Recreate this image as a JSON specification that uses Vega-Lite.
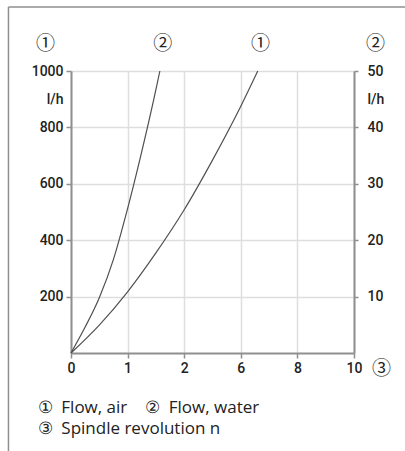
{
  "$schema": "https://vega.github.io/schema/vega-lite/v6.json",
  "width": 283,
  "height": 282,
  "autosize": {"type": "none"},
  "padding": {"left": 71, "top": 71, "right": 51, "bottom": 98},
  "background": "white",
  "config": {
    "view": {"stroke": null},
    "axis": {
      "labelFont": "Roboto",
      "labelFontSize": 14,
      "labelFontWeight": 500,
      "labelColor": "#222222",
      "domainColor": "#8f8f8f",
      "domainWidth": 2,
      "tickColor": "#8f8f8f",
      "tickWidth": 1.5,
      "gridColor": "#dedede",
      "gridWidth": 1.5,
      "titleFont": "Noto Sans CJK JP",
      "titleFontWeight": "normal",
      "titleColor": "#222222"
    }
  },
  "datasets": {
    "air": [
      {"n": 0, "q": 0},
      {"n": 1, "q": 99},
      {"n": 2, "q": 217},
      {"n": 3, "q": 355},
      {"n": 4, "q": 508},
      {"n": 5, "q": 684},
      {"n": 6, "q": 875},
      {"n": 6.6, "q": 1000}
    ],
    "water": [
      {"n": 0, "q": 0},
      {"n": 0.5, "q": 4.6},
      {"n": 1, "q": 9.8},
      {"n": 1.5, "q": 16.6},
      {"n": 2, "q": 25.6},
      {"n": 2.5, "q": 35.7},
      {"n": 3, "q": 46.7},
      {"n": 3.14, "q": 50}
    ]
  },
  "layer": [
    {
      "data": {"name": "air"},
      "mark": {"type": "line", "color": "#505050", "strokeWidth": 1.2, "interpolate": "monotone"},
      "encoding": {
        "x": {
          "field": "n", "type": "quantitative",
          "scale": {"domain": [0, 10], "nice": false},
          "axis": {
            "orient": "bottom",
            "values": [0, 2, 4, 6, 8, 10],
            "labelExpr": "datum.value == 2 ? '1' : datum.value == 4 ? '2' : datum.label",
            "grid": true,
            "tickSize": 5,
            "labelPadding": 3,
            "labelFlush": false,
            "title": "③",
            "titleX": 310,
            "titleY": 15,
            "titleAlign": "center",
            "titleBaseline": "middle",
            "titleFontSize": 19
          }
        },
        "y": {
          "field": "q", "type": "quantitative",
          "scale": {"domain": [0, 1000], "nice": false},
          "axis": {
            "orient": "left",
            "values": [200, 400, 600, 800, 900, 1000],
            "format": "d",
            "labelExpr": "datum.value == 900 ? 'l/h' : datum.label",
            "tickOpacity": {"condition": {"test": "datum.value == 900", "value": 0}, "value": 1},
            "gridOpacity": {"condition": {"test": "datum.value == 900", "value": 0}, "value": 1},
            "grid": true,
            "tickSize": 5,
            "labelPadding": 3,
            "labelFlush": false,
            "title": "①",
            "titleAngle": 0,
            "titleX": -26,
            "titleY": -28,
            "titleAlign": "center",
            "titleBaseline": "middle",
            "titleFontSize": 19
          }
        }
      }
    },
    {
      "data": {"name": "water"},
      "mark": {"type": "line", "color": "#505050", "strokeWidth": 1.2, "interpolate": "monotone"},
      "encoding": {
        "x": {"field": "n", "type": "quantitative", "scale": {"domain": [0, 10], "nice": false}, "axis": null},
        "y": {
          "field": "q", "type": "quantitative",
          "scale": {"domain": [0, 50], "nice": false},
          "axis": {
            "orient": "right",
            "values": [10, 20, 30, 40, 45, 50],
            "format": "d",
            "labelExpr": "datum.value == 45 ? 'l/h' : datum.label",
            "tickOpacity": {"condition": {"test": "datum.value == 45", "value": 0}, "value": 1},
            "grid": false,
            "tickSize": 4,
            "labelPadding": 9,
            "labelFlush": false,
            "title": "②",
            "titleAngle": 0,
            "titleX": 21,
            "titleY": -28,
            "titleAlign": "center",
            "titleBaseline": "middle",
            "titleFontSize": 19
          }
        }
      }
    },
    {
      "data": {"values": [{}]},
      "mark": {"type": "rule", "color": "#8f8f8f", "strokeWidth": 1.5},
      "encoding": {
        "x": {
          "datum": -2.21, "type": "quantitative",
          "scale": {"domain": [0, 10], "nice": false},
          "axis": {
            "orient": "top",
            "values": [3.22, 6.68],
            "labelExpr": "datum.value < 5 ? '②' : '①'",
            "ticks": false,
            "tickSize": 0,
            "domain": false,
            "grid": false,
            "labelPadding": 28,
            "labelBaseline": "middle",
            "labelFont": "Noto Sans CJK JP",
            "labelFontWeight": "normal",
            "labelFontSize": 19,
            "labelFlush": false,
            "labelOverlap": false,
            "title": ["①\u00a0\u00a0Flow, air\u00a0\u00a0\u00a0\u00a0②\u00a0\u00a0Flow, water", "③\u00a0\u00a0Spindle revolution n"],
            "titleX": -34,
            "titleY": 341,
            "titleAlign": "left",
            "titleBaseline": "alphabetic",
            "titleFont": "Open Sans",
            "titleFontSize": 17,
            "titleLineHeight": 21
          }
        },
        "x2": {"datum": 13},
        "y": {"datum": 1227, "type": "quantitative", "scale": {"domain": [0, 1000], "nice": false}, "axis": null}
      }
    },
    {
      "data": {"values": [{}]},
      "mark": {"type": "rule", "color": "#8f8f8f", "strokeWidth": 1.5},
      "encoding": {
        "x": {"datum": -2.21, "type": "quantitative", "scale": {"domain": [0, 10], "nice": false}, "axis": null},
        "y": {"datum": 1227, "type": "quantitative", "scale": {"domain": [0, 1000], "nice": false}, "axis": null},
        "y2": {"datum": -400}
      }
    }
  ],
  "resolve": {"scale": {"y": "independent"}, "axis": {"y": "independent"}}
}
